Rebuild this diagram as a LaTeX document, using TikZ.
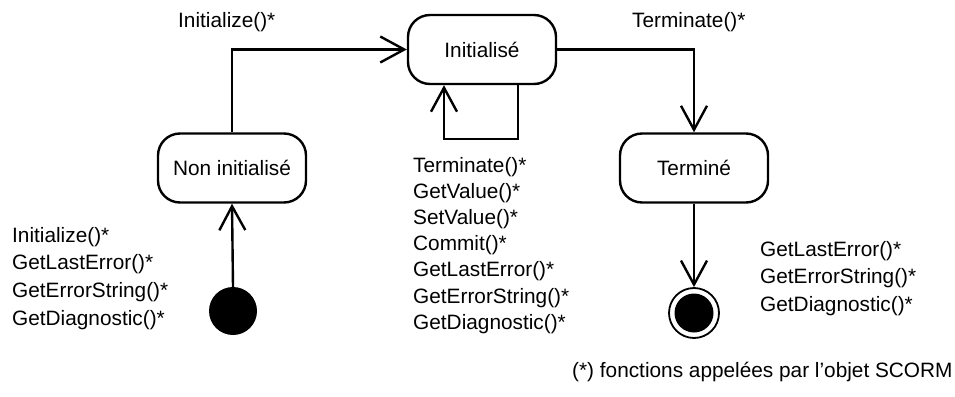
\documentclass[tikz,border=0pt]{standalone}
\usepackage{fontspec}
\setmainfont{Liberation Sans}
\usetikzlibrary{arrows.meta}
\begin{document}
\begin{tikzpicture}[x=1pt,y=-1pt,
  every node/.style={font=\fontsize{20.8}{24}\selectfont},
  state/.style={draw,line width=2.4pt,rounded corners=22pt,minimum width=148pt,minimum height=69pt,inner sep=0pt},
  lbl/.style={anchor=base west,inner sep=0pt},
  arr/.style={line width=2.4pt,-{Straight Barb[length=24pt,width=26pt,line width=2.4pt]}}]
\useasboundingbox (0,0) rectangle (955,396);
\node[state] (init) at (482,49.5) {Initialisé};
\node[state] (noninit) at (232,168) {Non initialisé};
\node[state] (term) at (694,168) {Terminé};
\node[circle,fill=black,minimum size=48pt,inner sep=0pt] (start) at (233,311) {};
\node[circle,fill=black,minimum size=39pt,inner sep=0pt] (endin) at (694,313) {};
\node[circle,draw,line width=1.8pt,minimum size=50pt,inner sep=0pt] (end) at (694,313) {};
\draw[arr] (start.north) -- (noninit.south);
\draw[arr] (noninit.north) |- (init.west);
\draw[arr] ([xshift=36pt]init.south) -- ++(0,54) -| ([xshift=-38pt]init.south);
\draw[arr] (init.east) -| (term.north);
\draw[arr] (term.south) -- (end.north);
\node[lbl] (linit) at (178,28) {Initialize()*};
\node[lbl] (lterm) at (632,28) {Terminate()*};
\foreach \t [count=\i] in {Terminate()*,GetValue()*,SetValue()*,Commit()*,GetLastError()*,GetErrorString()*,GetDiagnostic()*}
  \node[lbl] (mid\i) at (413,{172+26.2*(\i-1)}) {\t};
\foreach \t [count=\i] in {Initialize()*,GetLastError()*,GetErrorString()*,GetDiagnostic()*}
  \node[lbl] (left\i) at (12,{242+27.8*(\i-1)}) {\t};
\foreach \t [count=\i] in {GetLastError()*,GetErrorString()*,GetDiagnostic()*}
  \node[lbl] (right\i) at (760,{256+27.5*(\i-1)}) {\t};
\node[lbl] (foot) at (572,377) {(*) fonctions appelées par l’objet SCORM};
\end{tikzpicture}
\end{document}
